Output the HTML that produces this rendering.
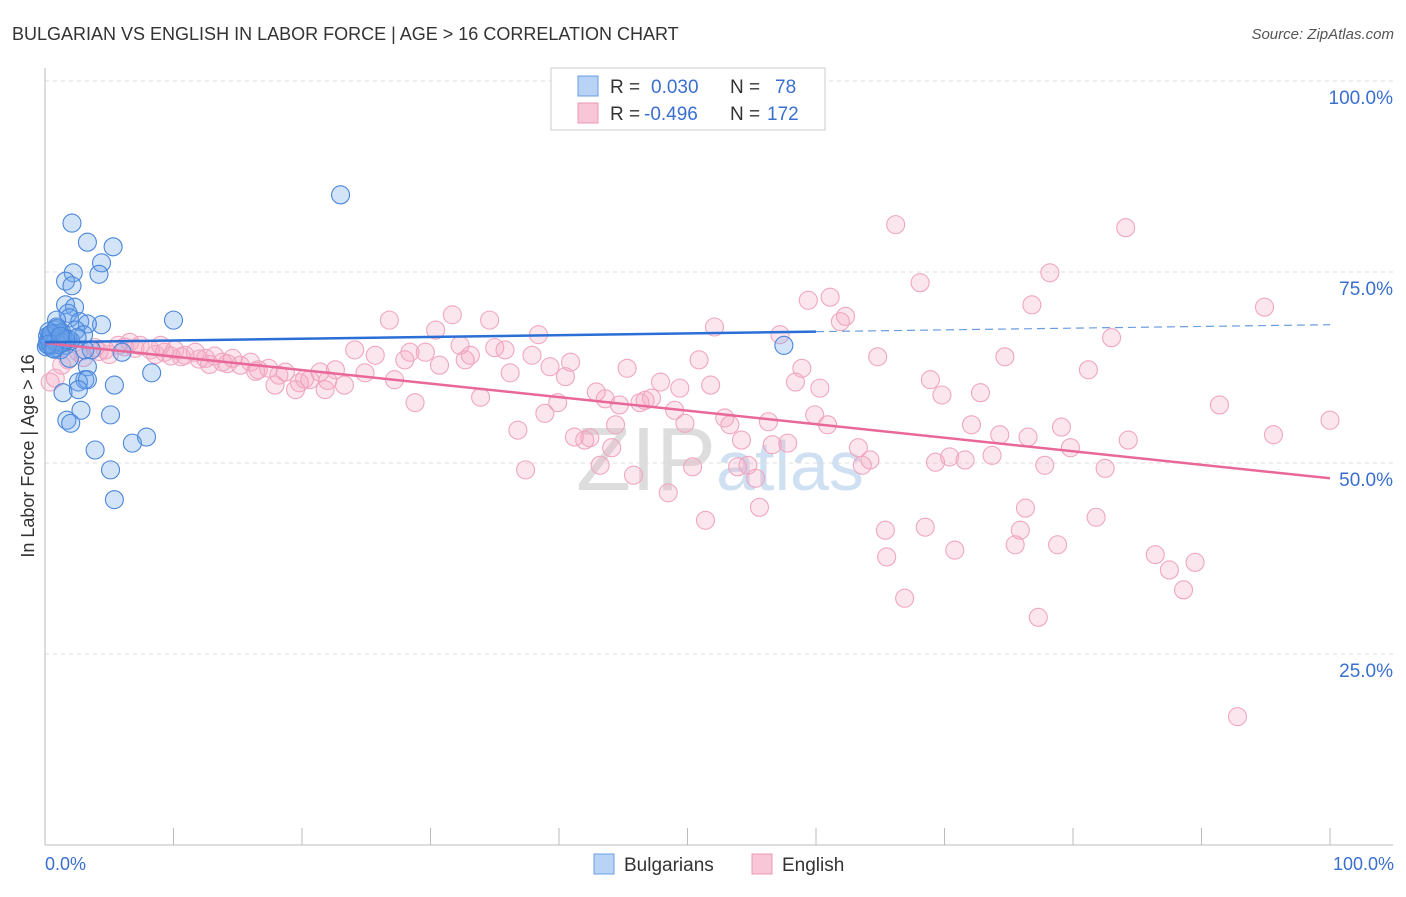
<!DOCTYPE html>
<html><head><meta charset="utf-8"><style>
body{margin:0;background:#fff;font-family:"Liberation Sans",sans-serif;}
svg text{font-family:"Liberation Sans",sans-serif;}
</style></head><body>
<svg id="chart" width="1406" height="892">
<text x="12" y="40" font-size="18" fill="#333">BULGARIAN VS ENGLISH IN LABOR FORCE | AGE &gt; 16 CORRELATION CHART</text>
<text x="1394" y="39" font-size="15" fill="#555" font-style="italic" text-anchor="end">Source: ZipAtlas.com</text>
<text x="720" y="490" font-size="90" fill="#ddd" text-anchor="middle" font-family="Liberation Serif">ZIP<tspan fill="#cfe0f3" font-family="Liberation Sans" font-size="70">atlas</tspan></text>
<g id="grid"></g><g id="pink"></g><g id="blue"></g><g id="lines"></g>
<text x="34" y="456" font-size="18" fill="#333" text-anchor="middle" transform="rotate(-90 34 456)">In Labor Force | Age &gt; 16</text>
<text x="45" y="870" font-size="18" fill="#3a6fd0">0.0%</text>
<text x="1394" y="870" font-size="18" fill="#3a6fd0" text-anchor="end">100.0%</text>
<g>
<rect x="551" y="68" width="274" height="62" fill="#fff" stroke="#ccc"/>
<rect x="578" y="76" width="20" height="20" fill="#b8d3f5" stroke="#6a9de0"/>
<rect x="578" y="103" width="20" height="20" fill="#f8c6d6" stroke="#ec9ab7"/>
<text x="610" y="93" font-size="19" fill="#333">R = <tspan fill="#3a6fd0" x="651">0.030</tspan><tspan x="730" fill="#333">N =</tspan><tspan x="775" fill="#3a6fd0">78</tspan></text>
<text x="610" y="120" font-size="19" fill="#333">R = <tspan fill="#3a6fd0" x="644">-0.496</tspan><tspan x="730" fill="#333">N =</tspan><tspan x="767" fill="#3a6fd0">172</tspan></text>
</g>
<g>
<rect x="594" y="854" width="20" height="20" fill="#b8d3f5" stroke="#6a9de0"/>
<text x="624" y="871" font-size="19" fill="#333">Bulgarians</text>
<rect x="752" y="854" width="20" height="20" fill="#f8c6d6" stroke="#ec9ab7"/>
<text x="782" y="871" font-size="19" fill="#333">English</text>
</g>
</svg>
<script>
const yTicks=[100,75,50,25];
const yTickLabels=["100.0%","75.0%","50.0%","25.0%"];
const blueX=[23.0,2.1,3.3,5.3,4.4,2.2,4.2,1.6,2.1,1.6,2.3,1.8,1.9,0.9,2.7,10.0,4.4,3.3,0.8,1.3,2.4,0.4,0.6,1.0,0.3,1.6,3.0,3.6,1.2,0.8,3.1,6.0,57.5,0.2,0.5,0.1,1.9,8.3,3.3,3.1,2.6,3.3,5.4,1.4,2.6,2.8,5.1,1.7,2.0,7.9,6.8,3.9,5.1,5.4,0.5,1.0,1.5,0.3,0.7,1.2,2.0,0.4,0.9,1.4,0.2,0.6,1.1,1.8,0.3,0.8,2.5,1.3,0.5,0.9,1.6,0.2,0.7,1.2];
const blueY=[85.1,81.4,78.9,78.3,76.2,74.9,74.7,73.8,73.2,70.7,70.4,69.6,69.0,68.7,68.5,68.7,68.1,68.2,67.4,67.1,67.4,66.8,66.1,66.4,65.4,65.4,66.8,64.8,64.8,65.1,64.8,64.5,65.4,65.8,65.4,65.2,63.7,61.8,62.6,60.9,60.6,60.9,60.2,59.2,59.6,56.9,56.3,55.6,55.2,53.4,52.6,51.7,49.1,45.2,66.5,66.0,65.8,66.2,67.0,66.9,66.0,65.6,67.6,66.3,66.6,65.0,65.5,66.2,67.2,65.9,66.4,65.7,66.9,67.8,66.1,65.5,64.9,66.6];
const pinkX=[0.4,0.8,1.3,1.8,2.6,3.9,4.7,5.7,6.6,7.4,8.2,9.0,9.3,10.1,10.9,11.7,12.5,13.2,13.8,14.6,15.2,16.0,16.6,17.4,17.9,18.7,19.5,19.8,20.6,21.4,21.8,22.6,23.3,24.1,24.9,25.7,26.8,27.2,28.0,28.4,28.8,29.6,30.4,30.7,31.7,32.3,32.7,33.1,33.9,34.6,35.0,35.8,36.2,36.8,37.4,37.9,38.4,38.9,39.3,39.9,40.5,40.9,41.2,42.0,42.4,42.9,43.2,43.6,44.1,44.4,44.7,45.3,45.8,46.3,46.7,47.2,47.9,48.5,49.0,49.4,49.8,50.4,50.9,51.4,51.8,52.1,52.9,53.3,53.9,54.2,54.7,55.3,55.6,56.3,56.6,57.2,57.8,58.4,58.9,59.4,59.9,60.3,60.9,61.1,61.9,62.3,63.3,63.6,64.2,64.8,65.4,65.5,66.2,66.9,68.1,68.5,68.9,69.3,69.8,70.4,70.8,71.6,72.1,72.8,73.7,74.3,74.7,75.5,75.9,76.3,76.5,76.8,77.3,77.8,78.2,78.8,79.1,79.8,81.2,81.8,82.5,83.0,84.1,84.3,86.4,87.5,88.6,89.5,91.4,92.8,94.9,95.6,100,3.0,5.0,7.0,9.8,12.0,14.2,16.4,18.2,20.2,22.0,4.2,6.2,8.6,10.6,12.8];
const pinkY=[60.6,61.1,62.8,63.5,64.5,65.1,64.8,65.4,65.8,65.4,64.8,65.4,64.5,64.8,64.1,64.5,63.7,64.0,63.2,63.7,62.8,63.2,62.2,62.4,60.2,61.9,59.6,60.5,60.9,61.9,59.6,62.2,60.2,64.8,61.8,64.1,68.7,60.9,63.5,64.5,57.9,64.5,67.4,62.8,69.4,65.4,63.5,64.1,58.6,68.7,65.1,64.8,61.8,54.3,49.1,64.1,66.8,56.5,62.6,57.9,61.3,63.2,53.4,53.0,53.3,59.3,49.7,58.4,52.0,55.0,57.6,62.4,48.4,57.9,58.2,58.5,60.6,46.1,56.9,59.8,55.2,49.5,63.5,42.5,60.2,67.8,55.9,55.0,49.5,53.0,49.7,48.0,44.2,55.4,52.4,66.8,52.6,60.6,62.4,71.3,56.3,59.8,55.0,71.7,68.5,69.2,52.0,49.7,50.4,63.9,41.2,37.7,81.2,32.3,73.6,41.6,60.9,50.1,58.9,50.8,38.6,50.4,55.0,59.2,51.0,53.7,63.9,39.3,41.2,44.1,53.4,70.7,29.8,49.7,74.9,39.3,54.7,52.0,62.2,42.9,49.3,66.4,80.8,53.0,38.0,36.0,33.4,37.0,57.6,16.8,70.4,53.7,55.6,63.8,64.2,65.0,64.0,63.6,63.0,62.0,61.5,61.0,60.8,64.6,65.2,64.2,63.9,62.9];
const blueLine=[[0,65.8],[60,67.2]], blueDash=[[60,67.2],[100,68.1]];
const pinkLine=[[0,65.7],[100,48.0]];
const X=v=>45+v*12.85, Y=v=>845-v*7.64;
const NS="http://www.w3.org/2000/svg";
function mk(tag,attrs,parent){const e=document.createElementNS(NS,tag);for(const k in attrs)e.setAttribute(k,attrs[k]);parent.appendChild(e);return e;}
const grid=document.getElementById('grid');
yTicks.forEach((t,i)=>{
 const l=mk('line',{x1:45,x2:1393,y1:Y(t),y2:Y(t),stroke:'#ddd','stroke-dasharray':'4,4'},grid);
 
 
 const tx=mk('text',{x:1393,y:Y(t)+23,'font-size':19,fill:'#3a6fd0','text-anchor':'end'},grid);
 tx.textContent=yTickLabels[i];
 
 
});
const ax=mk('line',{x1:45,x2:45,y1:68,y2:845,stroke:'#bbb'},grid);


const bx=mk('line',{x1:45,x2:1393,y1:845,y2:845,stroke:'#bbb'},grid);


for(let i=0;i<=10;i++){const t=mk('line',{x1:X(i*10),x2:X(i*10),y1:828,y2:845,stroke:'#bbb'},grid);
 
 }
const pg=document.getElementById('pink');
pinkX.forEach((x,i)=>{const c=mk('circle',{cx:X(x),cy:Y(pinkY[i]),r:9,fill:'rgba(245,165,195,0.28)',stroke:'#f0a6c0','stroke-width':1.1},pg);
 
 });
const bg=document.getElementById('blue');
blueX.forEach((x,i)=>{const c=mk('circle',{cx:X(x),cy:Y(blueY[i]),r:9,fill:'rgba(110,165,235,0.3)',stroke:'#4a86da','stroke-width':1.1},bg);
 
 });
const lg=document.getElementById('lines');
const pl=mk('line',{x1:X(pinkLine[0][0]),y1:Y(pinkLine[0][1]),x2:X(pinkLine[1][0]),y2:Y(pinkLine[1][1]),stroke:'#e8689a','stroke-width':2.5},lg);


const bl=mk('line',{x1:X(blueLine[0][0]),y1:Y(blueLine[0][1]),x2:X(blueLine[1][0]),y2:Y(blueLine[1][1]),stroke:'#2a6fd6','stroke-width':2.5},lg);


const bd=mk('line',{x1:X(blueDash[0][0]),y1:Y(blueDash[0][1]),x2:X(blueDash[1][0]),y2:Y(blueDash[1][1]),stroke:'#6a9de0','stroke-width':1.2,'stroke-dasharray':'8,5'},lg);


</script>
</body></html>
